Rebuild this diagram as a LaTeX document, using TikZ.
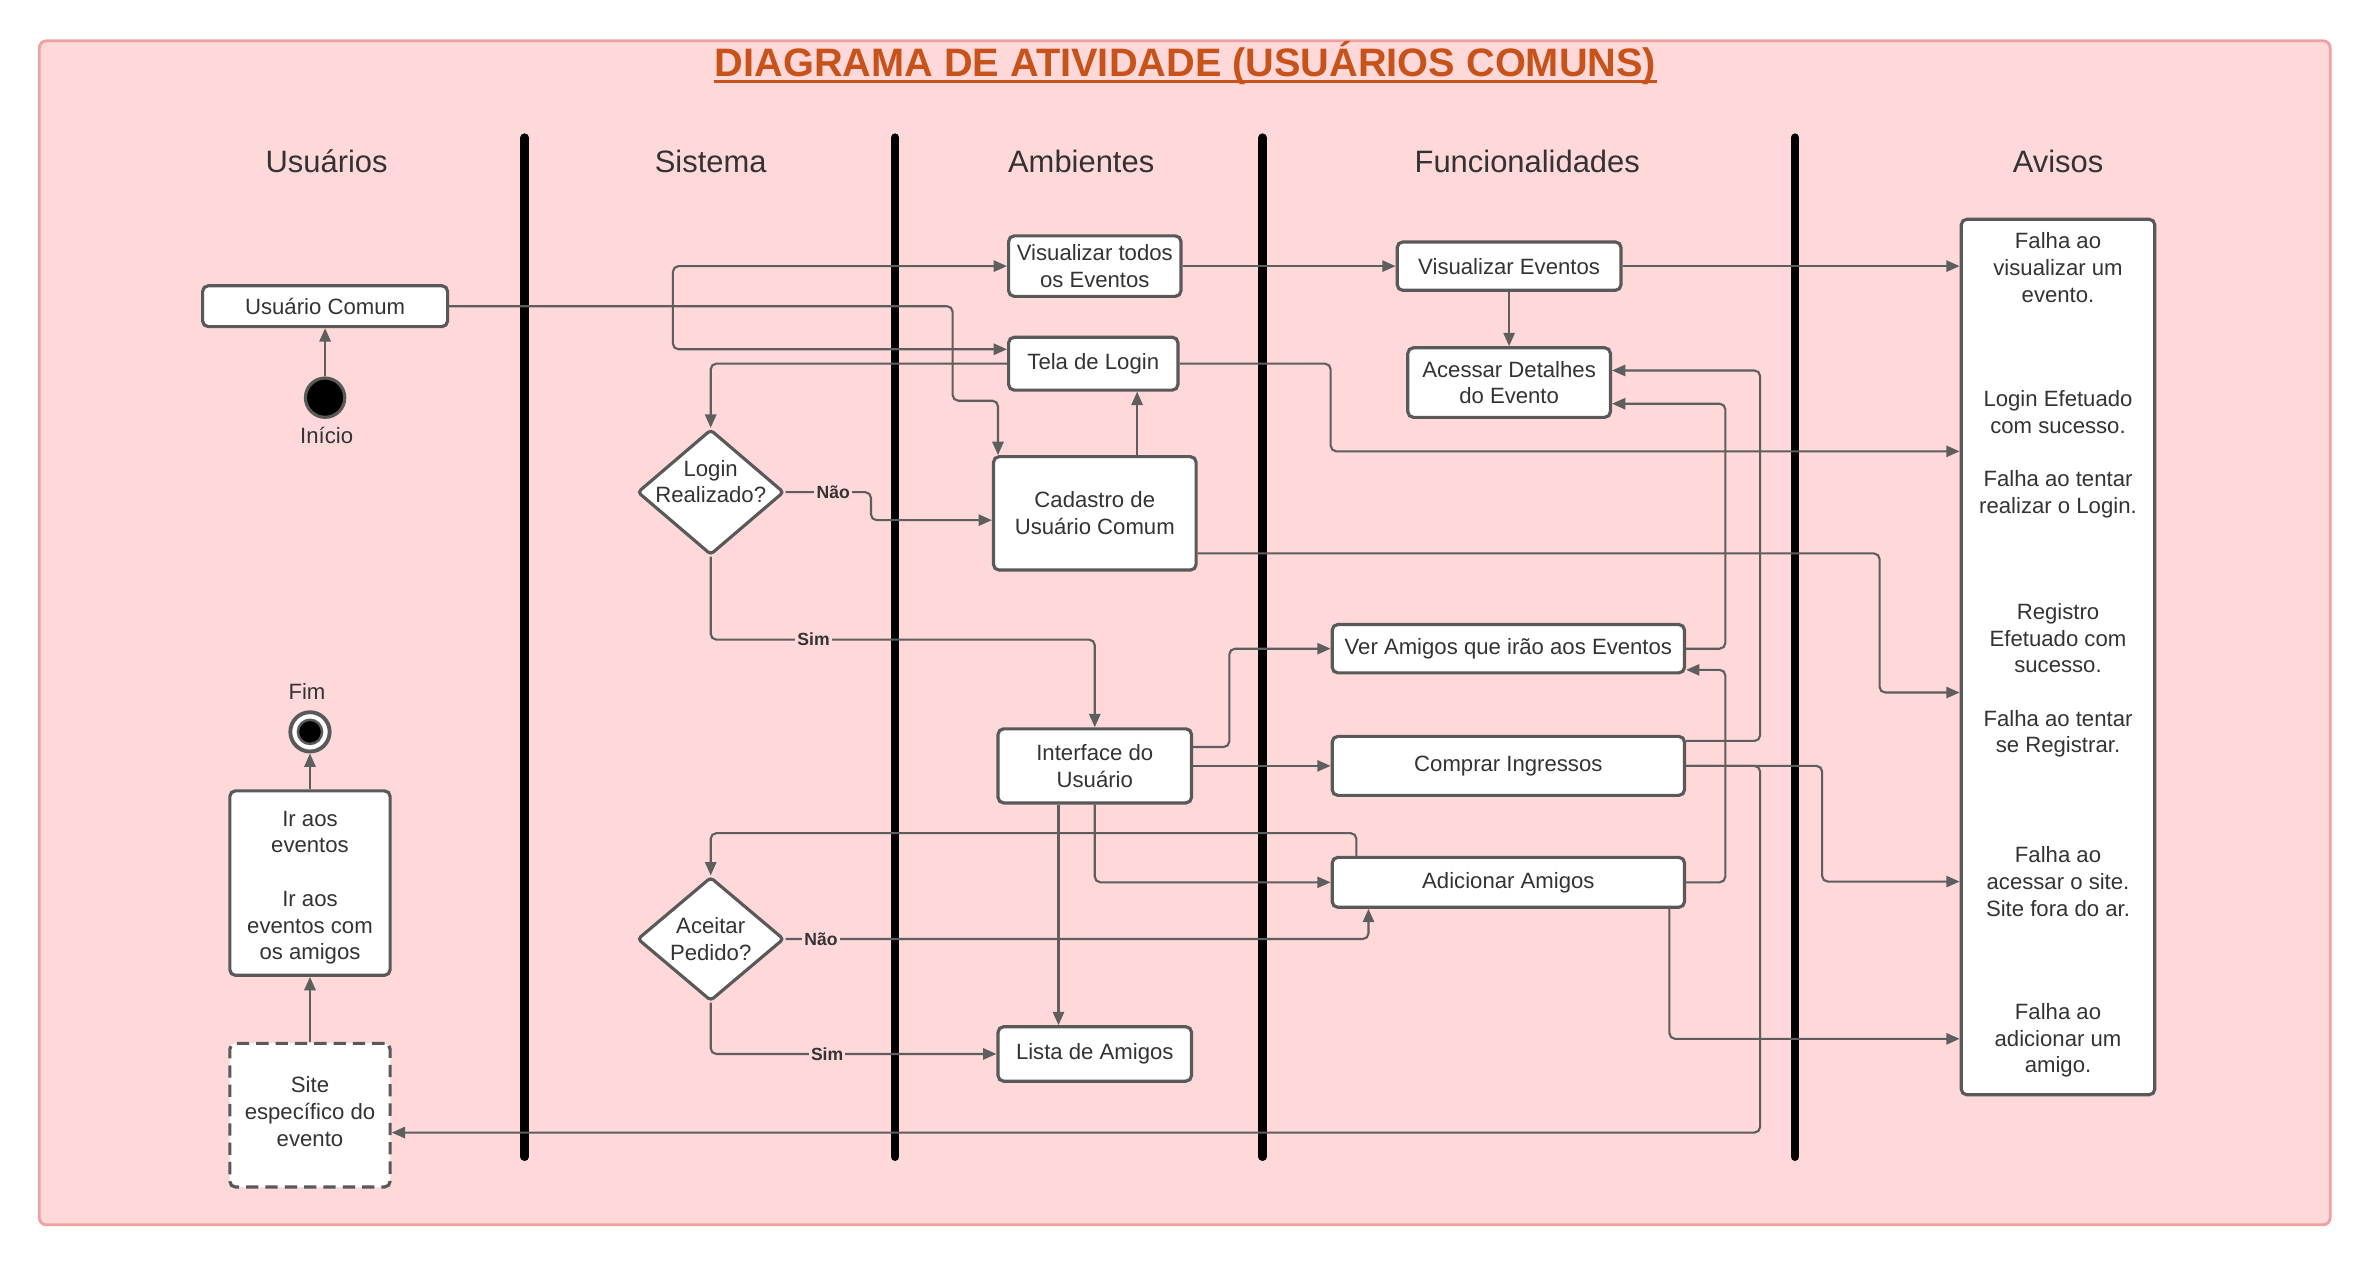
\documentclass[tikz,border=0pt]{standalone}
\usepackage{fontspec}
\setmainfont{Liberation Sans}
\usetikzlibrary{arrows.meta,shapes.geometric,calc}
\definecolor{bgpink}{HTML}{FFD8D9}
\definecolor{framec}{HTML}{F0A0A0}
\definecolor{titlec}{HTML}{C8531A}
\definecolor{linec}{HTML}{5E5E5E}
\definecolor{boxc}{HTML}{595959}
\definecolor{txtc}{HTML}{333333}
\newcommand\U{0.15121mm}
\begin{document}
\begin{tikzpicture}[x=0.15121mm, y=-0.15121mm,
  every node/.style={text=txtc},
  txt/.style={font=\fontsize{6.3}{7.6}\selectfont, align=center},
  box/.style={txt, draw=boxc, fill=white, line width=0.9pt, rounded corners=1.6pt, inner sep=1pt},
  conn/.style={draw=linec, line width=0.6pt, rounded corners=1.6pt, -{Triangle[length=3.8pt,width=3.2pt]}},
  lbl/.style={font=\fontsize{5}{6}\selectfont\bfseries, fill=bgpink, inner sep=0.6pt},
  head/.style={font=\fontsize{8.8}{10}\selectfont, anchor=base},
  lane/.style={line width=2.4pt, line cap=round, draw=black},
  dia/.style={shape=diamond, draw=boxc, fill=white, line width=0.9pt, rounded corners=1pt, inner sep=0pt}
]
\useasboundingbox (0,0) rectangle (1568,837);
\draw[draw=framec, fill=bgpink, line width=0.8pt, rounded corners=2pt] (26,27) rectangle (1541,810);

% title
\node[font=\fontsize{11.3}{13}\selectfont\bfseries, text=titlec, inner sep=0, anchor=base] (title) at (784,50.5) {DIAGRAMA DE ATIVIDADE (USUÁRIOS COMUNS)};
\draw[titlec, line width=0.8pt] ($(title.base west)+(0,3.5)$) -- ($(title.base east)+(0,3.5)$);

% headers
\node[head] (h1) at (216,114) {Usuários};
\node[head] (h2) at (470,114) {Sistema};
\node[head] (h3) at (715,114) {Ambientes};
\node[head] (h4) at (1010,114) {Funcionalidades};
\node[head] (h5) at (1361,114) {Avisos};

% lanes
\draw[lane] (347,91) -- (347,765);
\draw[lane] (592,91) -- (592,765);
\draw[lane] (835,91) -- (835,765);
\draw[lane] (1187,91) -- (1187,765);

% nodes
\node[box, minimum width=162*\U, minimum height=27*\U] (uc) at (215,202.5) {Usuário Comum};
\node[circle, fill=black, draw=boxc, line width=0.9pt, minimum size=26*\U, inner sep=0] (init) at (215,263) {};
\node[txt] (inicio) at (216,288) {Início};
\node[box, minimum width=114*\U, minimum height=40*\U] (vte) at (724,176) {Visualizar todos\\os Eventos};
\node[box, minimum width=112*\U, minimum height=35*\U] (tl) at (723,240.5) {Tela de Login};
\node[dia, minimum width=97*\U, minimum height=83*\U, label={[txt, yshift=7*\U]center:Login\\Realizado?}] (lr) at (470,325.5) {};
\node[box, minimum width=134*\U, minimum height=75*\U] (cad) at (724,339.5) {Cadastro de\\Usuário Comum};
\node[box, minimum width=148*\U, minimum height=32*\U] (ve) at (998,176) {Visualizar Eventos};
\node[box, minimum width=134*\U, minimum height=46*\U] (ad) at (998,253) {Acessar Detalhes\\do Evento};
\node[box, minimum width=233*\U, minimum height=32*\U] (va) at (997.5,429) {Ver Amigos que irão aos Eventos};
\node[box, minimum width=128*\U, minimum height=49*\U] (iu) at (724,506.5) {Interface do\\Usuário};
\node[box, minimum width=233*\U, minimum height=39*\U] (ci) at (997.5,506.5) {Comprar Ingressos};
\node[box, minimum width=233*\U, minimum height=33*\U] (aa) at (997.5,583.5) {Adicionar Amigos};
\node[dia, minimum width=97*\U, minimum height=82*\U, label={[txt]center:Aceitar\\Pedido?}] (ap) at (470,621) {};
\node[box, minimum width=128*\U, minimum height=36*\U] (la) at (724,697) {Lista de Amigos};
\node[box, minimum width=128*\U, minimum height=579*\U] (av) at (1361,434.5) {};
\node[txt] (av1) at (1361,177) {Falha ao\\visualizar um\\evento.};
\node[txt] (av2) at (1361,300.5) {Login Efetuado\\com sucesso.\\[7.6pt]Falha ao tentar\\realizar o Login.};
\node[txt] (av3) at (1361,450) {Registro\\Efetuado com\\sucesso.\\[7.6pt]Falha ao tentar\\se Registrar.};
\node[txt] (av4) at (1361,583) {Falha ao\\acessar o site.\\Site fora do ar.};
\node[txt] (av5) at (1361,688) {Falha ao\\adicionar um\\amigo.};
\node[box, minimum width=106*\U, minimum height=122*\U, label={[txt, yshift=-3*\U]center:Ir aos\\eventos\\[7.6pt]Ir aos\\eventos com\\os amigos}] (ir) at (205,584) {};
\node[box, dashed, dash pattern=on 3.5pt off 2pt, minimum width=106*\U, minimum height=95*\U, label={[txt, yshift=2.5*\U]center:Site\\específico do\\evento}] (site) at (205,737.5) {};
\node[circle, draw=boxc, fill=white, line width=1.1pt, minimum size=26*\U, inner sep=0] (fim) at (205,484) {};
\node[circle, draw=boxc, fill=black, line width=0.7pt, minimum size=16*\U, inner sep=0] (fimc) at (fim.center) {};
\node[txt] (fimlbl) at (203,457) {Fim};

% connectors
\coordinate (j1) at (445,202.5);
\draw[conn] (init.north) -- (uc.south);
\draw[conn] (uc.east) -- (630,202.5) -- (630,265) -- (660,265) -- (660,0 |- cad.north);
\draw[conn] (j1) |- (vte.west);
\draw[conn] (j1) |- ($(tl.west)+(0,-9.5)$);
\draw[conn] (tl.west) -| (lr.north);
\draw[conn] (lr.east) -- (576,325.5) -- (576,344) -- (cad.west |- 0,344);
\draw[conn] (752,0 |- cad.north) -- (752,0 |- tl.south);
\draw[conn] (tl.east) -- (880,240.5) -- (880,298.5) -- (av.west |- 0,298.5);
\draw[conn] (vte.east) -- (ve.west);
\draw[conn] (ve.east) -- (av.west |- ve.east);
\draw[conn] (ve.south) -- (ad.north);
\draw[conn] (cad.east |- 0,366) -- (1243,366) -- (1243,458) -- (av.west |- 0,458);
\draw[conn] (lr.south) -- (470,423) -- (724,423) -- (iu.north);
\draw[conn] (iu.east |- 0,494) -- (813,494) -- (813,429) -- (va.west);
\draw[conn] (iu.east) -- (ci.west);
\draw[conn] (iu.south) |- (aa.west);
\draw[conn] (700,0 |- iu.south) -- (700,0 |- la.north);
\draw[conn] (897,0 |- aa.north) -- (897,551) -- (470,551) -- (ap.north);
\draw[conn] (ap.east) -- (905,621) -- (905,0 |- aa.south);
\draw[conn] (ap.south) |- (la.west);
\draw[conn] (va.east) -- (1141,429) -- (1141,267) -- (ad.east |- 0,267);
\draw[conn] (aa.east) -- (1141,583.5) -- (1141,443) -- (va.east |- 0,443);
\draw[conn] (ci.east |- 0,490) -- (1164,490) -- (1164,245) -- (ad.east |- 0,245);
\draw[conn] (ci.east) -- (1205,506.5) -- (1205,583) -- (av.west |- 0,583);
\draw[conn] (ci.east) -- (1164,506.5) -- (1164,749) -- (site.east |- 0,749);
\draw[conn] (1104,0 |- aa.south) -- (1104,687) -- (av.west |- 0,687);
\draw[conn] (site.north) -- (ir.south);
\draw[conn] (ir.north) -- (fim.south);

% connector labels
\node[lbl] (l1) at (551,325.5) {Não};
\node[lbl] (l2) at (538,423) {Sim};
\node[lbl] (l3) at (543,621) {Não};
\node[lbl] (l4) at (547,697) {Sim};
\end{tikzpicture}
\end{document}
